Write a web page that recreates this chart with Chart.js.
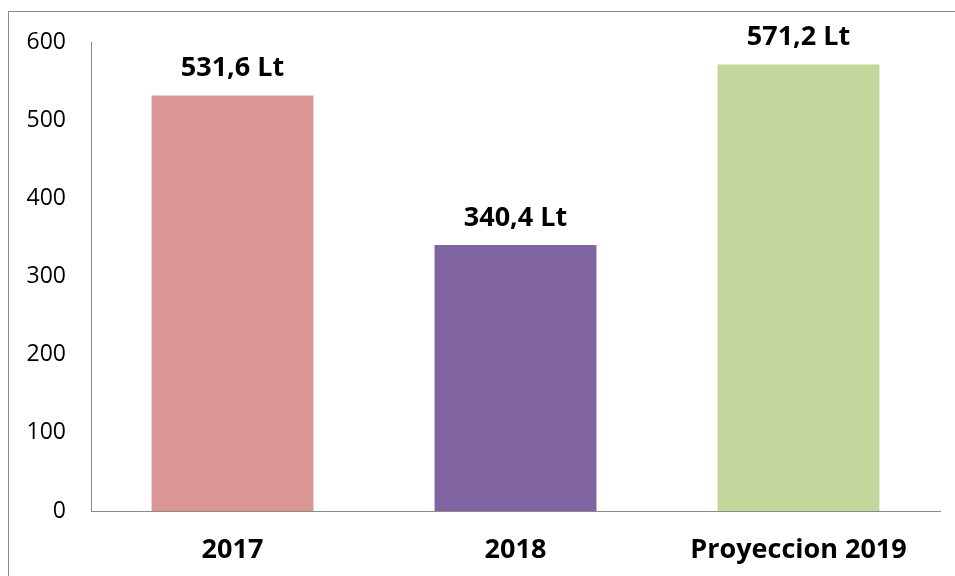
<!DOCTYPE html>
<html>
<head>
<meta charset="utf-8">
<script src="https://cdn.jsdelivr.net/npm/chart.js@4"></script>
<style>
  html, body { margin: 0; padding: 0; background: #fff; overflow: hidden; }
  .frame { position: absolute; left: 8px; top: 11px; width: 960px; height: 600px; border: 1px solid #8a8a8a; }
  .wrap { position: absolute; left: 0; top: 0; width: 955px; height: 576px; }
</style>
</head>
<body>
<div class="frame"></div>
<div class="wrap"><canvas id="myBarChart" width="955" height="576"></canvas></div>
<script>
const categories = ['2017', '2018', 'Proyeccion 2019']
const litros = [531.6, 340.4, 571.2]
const valueLabels = ['531,6 Lt', '340,4 Lt', '571,2 Lt']
const barColors = ['#D99694', '#8064A2', '#C3D69B']

const FONT = "'Open Sans', sans-serif"

// etiquetas encima de cada barra
const topLabels = {
  id: 'topLabels',
  afterDatasetsDraw(chart) {
    const ctx = chart.ctx
    const meta = chart.getDatasetMeta(0)
    ctx.save()
    ctx.font = 'bold 27px ' + FONT
    ctx.fillStyle = '#000'
    ctx.textAlign = 'center'
    ctx.textBaseline = 'middle'
    meta.data.forEach((bar, i) => {
      ctx.fillText(valueLabels[i], bar.x, bar.y - 27)
    })
    ctx.restore()
  },
}

new Chart(document.getElementById('myBarChart'), {
  type: 'bar',
  data: {
    labels: categories,
    datasets: [
      {
        data: litros,
        backgroundColor: barColors,
        borderWidth: 0,
        barPercentage: 0.572,
        categoryPercentage: 1,
      },
    ],
  },
  options: {
    responsive: false,
    animation: false,
    layout: { padding: { top: 42, right: 15, left: 0, bottom: 0 } },
    plugins: {
      legend: { display: false },
      tooltip: { enabled: false },
    },
    scales: {
      x: {
        grid: { display: false, drawTicks: false },
        border: { display: true, color: '#8a8a8a', width: 1 },
        ticks: { padding: 23, color: '#000', font: { family: FONT, size: 27, weight: 'bold' } },
        afterFit: (scale) => { scale.height = 65 },
      },
      y: {
        min: 0,
        max: 600,
        grid: { display: false, drawTicks: false },
        border: { display: true, color: '#8a8a8a', width: 1 },
        ticks: { stepSize: 100, padding: 25, color: '#000', font: { family: FONT, size: 23 } },
        afterFit: (scale) => { scale.width = 91 },
      },
    },
  },
  plugins: [topLabels],
})
</script>
</body>
</html>
